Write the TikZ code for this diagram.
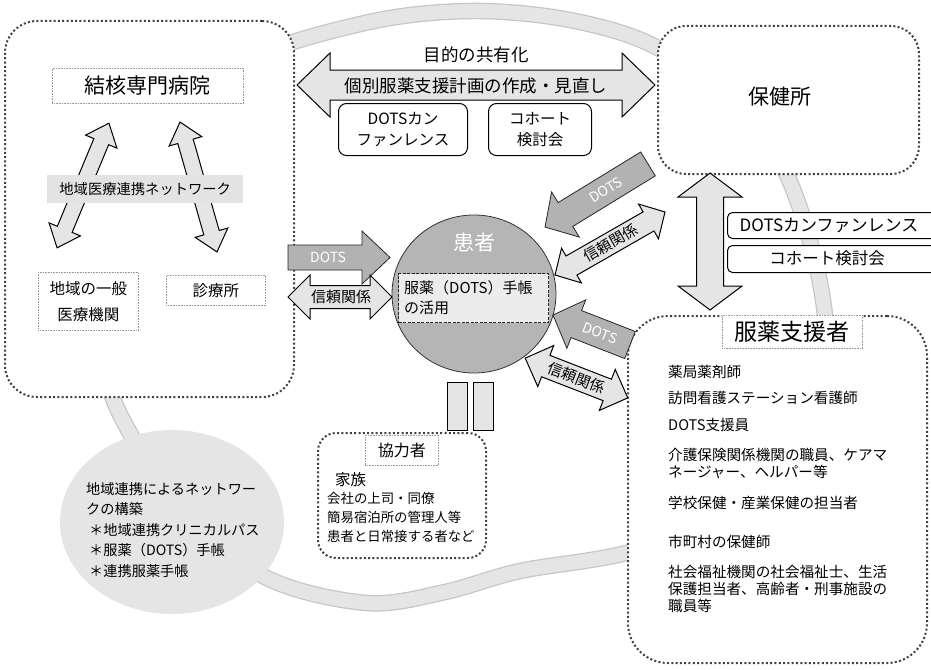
\documentclass[tikz,border=0pt]{standalone}
\usepackage{fontspec}
\setmainfont{Noto Sans CJK JP}
\usetikzlibrary{shapes.geometric}
\newcommand\fsz[2]{\fontsize{#1}{#2}\selectfont}
% double block arrow: #1 style, #2 centre, #3 angle, #4 half length, #5 shaft half width, #6 head half width, #7 head length
\newcommand\blockdbl[7]{%
 \begin{scope}[shift={#2},rotate=#3]
 \draw[#1] (-#4,0) -- ({-#4+#7},#6) -- ({-#4+#7},#5) -- ({#4-#7},#5) -- ({#4-#7},#6) -- (#4,0)
   -- ({#4-#7},-#6) -- ({#4-#7},-#5) -- ({-#4+#7},-#5) -- ({-#4+#7},-#6) -- cycle;
 \end{scope}}
% single block arrow pointing along the angle
\newcommand\blocksgl[7]{%
 \begin{scope}[shift={#2},rotate=#3]
 \draw[#1] (-#4,#5) -- ({#4-#7},#5) -- ({#4-#7},#6) -- (#4,0) -- ({#4-#7},-#6) -- ({#4-#7},-#5) -- (-#4,-#5) -- cycle;
 \end{scope}}
\begin{document}
\begin{tikzpicture}[x=1pt,y=-1pt,
  bigbox/.style={draw=black!75, line width=2pt, dash pattern=on 2pt off 2.3pt, fill=white, anchor=north west, inner sep=0pt},
  thinbox/.style={draw=gray!80, densely dotted, line width=0.6pt, anchor=north west, inner sep=0pt, fill=white},
  rbox/.style={draw=black, line width=1pt, rounded corners=8pt, fill=white, anchor=north west, inner sep=0pt, align=center},
  lightarr/.style={draw=black, line width=1pt, fill=gray!20, line join=miter},
  darkarr/.style={draw=gray!30!black, line width=0.8pt, fill=gray!60, line join=miter},
  txt/.style={inner sep=0pt, text=black},
  wtxt/.style={inner sep=0pt, text=white},
  ringout/.style={draw=gray!45, line width=16.5pt},
  ringin/.style={draw=gray!20, line width=14pt}]
\useasboundingbox (0,0) rectangle (931,669);
\clip (0,0) rectangle (931,669);
\fill[white] (0,0) rectangle (931,669);

% background ring
\def\ringpath{plot[smooth cycle, tension=0.55] coordinates {(480,11) (570,20) (652,45) (730,100) (787,175) (823,300) (822,420) (745,510) (630,552) (520,571) (445,592) (367,603) (267,578) (180,510) (132,437) (106,370) (108,250) (155,135) (225,72) (290,43) (390,18)}}
\draw[ringout] \ringpath;
\draw[ringin] \ringpath;

% bubble
\node[ellipse, fill=gray!20, minimum width=224pt, minimum height=184pt, inner sep=0pt] (bub) at (172,522) {};
\node[txt, anchor=west, align=left, font=\fsz{14.2}{20.5}] (bubtxt) at (86,530)
  {地域連携によるネットワー\\クの構築\\\hspace{3pt}＊地域連携クリニカルパス\\\hspace{3pt}＊服薬（DOTS）手帳\\\hspace{3pt}＊連携服薬手帳};

% big dotted boxes
\node[bigbox, rounded corners=32pt, minimum width=289pt, minimum height=376pt] (lbox) at (4,20) {};
\node[bigbox, rounded corners=28pt, minimum width=261pt, minimum height=148pt] (hbox) at (657,25) {};
\node[bigbox, rounded corners=40pt, minimum width=299pt, minimum height=347pt] (sbox) at (627,315) {};
\node[bigbox, rounded corners=18pt, minimum width=168pt, minimum height=125pt] (kbox) at (317,432) {};

% left box content
\blockdbl{lightarr}{(83,185.5)}{67.4}{67.5}{8}{17}{20}
\blockdbl{lightarr}{(198.5,187)}{105.9}{67.5}{8}{17}{20}
\node[thinbox, minimum width=191pt, minimum height=35pt, font=\fsz{21}{25}] (tbh) at (52,68) {結核専門病院};
\node[inner sep=0pt, fill=gray!22, anchor=north west, minimum width=196pt, minimum height=28pt, font=\fsz{14.3}{17}] (net) at (47,175) {地域医療連携ネットワーク};
\node[thinbox, minimum width=100pt, minimum height=58pt, align=center, font=\fsz{15.5}{26}] (gen) at (38,272) {地域の一般\\医療機関};
\node[thinbox, minimum width=99pt, minimum height=30pt, font=\fsz{15.5}{18}] (cli) at (166,275) {診療所};

% top centre
\node[txt, font=\fsz{17.5}{20}] (share) at (476,55) {目的の共有化};
\blockdbl{lightarr}{(476,85)}{0}{179}{15}{32}{33}
\node[txt, font=\fsz{17.5}{20}] (plan) at (476,86) {個別服薬支援計画の作成・見直し};
\node[rbox, minimum width=129pt, minimum height=52pt, font=\fsz{15.5}{21}] (conf1) at (338,103) {DOTSカン\\ファンレンス};
\node[rbox, minimum width=103pt, minimum height=52pt, font=\fsz{15.5}{21}] (coh1) at (488,103) {コホート\\検討会};

% health centre
\node[txt, font=\fsz{21}{25}] (hc) at (780,97) {保健所};
\blockdbl{lightarr}{(710,241.5)}{90}{68.5}{13.5}{32}{24}
\node[draw, line width=1pt, rounded corners=5pt, fill=white, anchor=north west, inner sep=0pt, minimum width=223pt, minimum height=26pt] (conf2) at (727,212) {};
\node[txt, font=\fsz{17}{20}] (conf2t) at (829,225) {DOTSカンファンレンス};
\node[draw, line width=1pt, rounded corners=5pt, fill=white, anchor=north west, inner sep=0pt, minimum width=223pt, minimum height=27pt] (coh2) at (727,245) {};
\node[txt, font=\fsz{16.5}{20}] (coh2t) at (827,258) {コホート検討会};

% patient
\node[ellipse, fill=gray!58, draw=gray!40!black, line width=0.8pt, minimum width=164pt, minimum height=158pt, inner sep=0pt] (pat) at (474,294) {};
\node[wtxt, font=\fsz{21}{25}] (patt) at (474,243) {患者};
\node[draw=gray!30!black, dash pattern=on 3pt off 1.5pt, line width=1.2pt, fill=gray!15, anchor=north west, inner sep=0pt, minimum width=150pt, minimum height=49pt] (note) at (398,273) {};
\node[txt, anchor=west, align=left, font=\fsz{15}{20}] (notet) at (404,298) {服薬（DOTS）手帳\\の活用};

% arrows to patient
\blocksgl{darkarr}{(339,257.5)}{0}{51}{12.5}{26.5}{28}
\node[wtxt, font=\fsz{14}{16}] (dotsL) at (328,257) {DOTS};
\blockdbl{lightarr}{(340,297)}{0}{52}{11.5}{22}{22}
\node[txt, font=\fsz{15}{18}] (trustL) at (341,297) {信頼関係};

\blocksgl{darkarr}{(596.5,195.5)}{211.5}{60.4}{14}{26.5}{24}
\node[wtxt, font=\fsz{14}{16}, rotate=31.5] (dotsU) at (606,190) {DOTS};
\blockdbl{lightarr}{(610,243.5)}{29.8}{63.4}{11}{20}{19}
\node[txt, font=\fsz{15}{18}, rotate=29.8] (trustU) at (611,243) {信頼関係};

\blocksgl{darkarr}{(591.5,330)}{158.7}{41.3}{14.5}{26}{25}
\node[wtxt, font=\fsz{14}{16}, rotate=-21.3] (dotsD) at (600,333) {DOTS};
\blockdbl{lightarr}{(576.5,378)}{-21.2}{55}{11.5}{22}{22}
\node[txt, font=\fsz{15}{18}, rotate=-21.2] (trustD) at (577,378) {信頼関係};

% bars below patient
\node[draw, line width=1pt, fill=gray!20, anchor=north west, inner sep=0pt, minimum width=20pt, minimum height=48pt] (bar1) at (447,382) {};
\node[draw, line width=1pt, fill=gray!20, anchor=north west, inner sep=0pt, minimum width=20pt, minimum height=48pt] (bar2) at (473,382) {};

% cooperators
\node[thinbox, minimum width=73pt, minimum height=30pt, font=\fsz{16}{19}] (kyo) at (365,435) {協力者};
\node[txt, anchor=west, font=\fsz{15.5}{18}] (fam) at (335,480) {家族};
\node[txt, anchor=north west, align=left, font=\fsz{13.4}{19}] (kyol) at (327,492) {会社の上司・同僚\\簡易宿泊所の管理人等\\患者と日常接する者など};

% medication supporters
\node[thinbox, minimum width=140pt, minimum height=33pt, font=\fsz{23}{26}] (sup) at (722,315) {服薬支援者};
\begin{scope}[every node/.style={txt, anchor=west, align=left, font=\fsz{14.6}{17}}]
\node (s1) at (668,372) {薬局薬剤師};
\node (s2) at (668,398) {訪問看護ステーション看護師};
\node (s3) at (668,425) {DOTS支援員};
\node (s4) at (668,463.5) {介護保険関係機関の職員、ケアマ\\ネージャー、ヘルパー等};
\node (s5) at (668,503) {学校保健・産業保健の担当者};
\node (s6) at (668,542) {市町村の保健師};
\node (s7) at (668,588.5) {社会福祉機関の社会福祉士、生活\\保護担当者、高齢者・刑事施設の\\職員等};
\end{scope}
\end{tikzpicture}
\end{document}
